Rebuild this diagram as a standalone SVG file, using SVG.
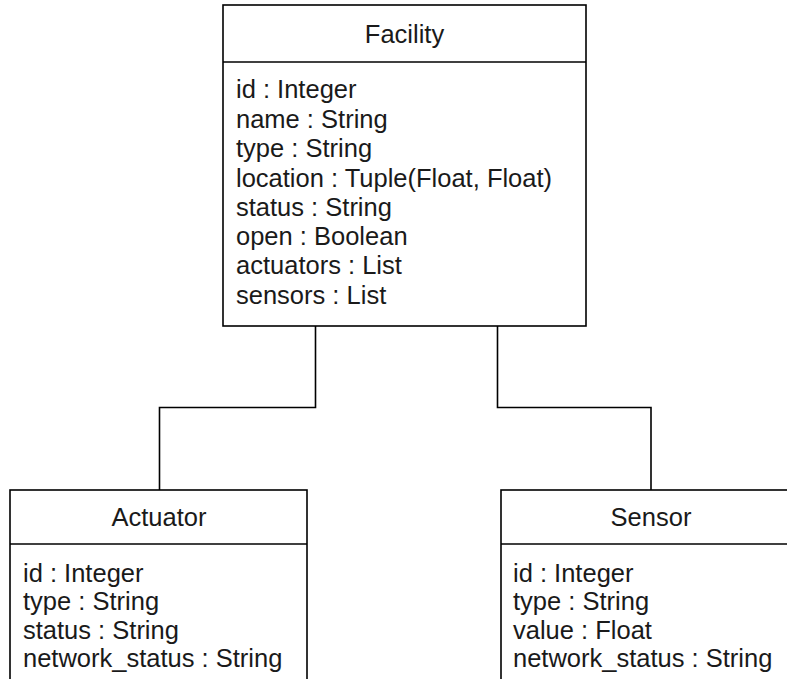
<svg xmlns="http://www.w3.org/2000/svg" width="787" height="679" viewBox="0 0 787 679">
  <style>
    .box { fill: #ffffff; stroke: #000000; stroke-width: 1.6; }
    .sep { stroke: #000000; stroke-width: 1.6; fill: none; }
    .edge { stroke: #000000; stroke-width: 1.6; fill: none; }
    .title { font-family: "Liberation Sans", Arial, sans-serif; font-size: 25.5px; fill: #1a1a1a; text-anchor: middle; }
    .attr { font-family: "Liberation Sans", Arial, sans-serif; font-size: 25.5px; fill: #1a1a1a; }
  </style>
  <rect width="787" height="679" fill="#ffffff"/>

  <!-- associations from Facility down to its parts -->
  <g id="connectors">
    <path class="edge" d="M315.5,326 V407.5 H159.5 V490"/>
    <path class="edge" d="M497.5,326 V407.5 H651 V490"/>
  </g>

  <g id="facility">
    <rect class="box" x="223" y="5" width="363" height="321"/>
    <line class="sep" x1="223" y1="62" x2="586" y2="62"/>
    <text class="title" x="404.5" y="43">Facility</text>
    <text class="attr" x="236" y="98">id : Integer</text>
    <text class="attr" x="236" y="127.5">name : String</text>
    <text class="attr" x="236" y="157">type : String</text>
    <text class="attr" x="236" y="186.5">location : Tuple(Float, Float)</text>
    <text class="attr" x="236" y="215.5">status : String</text>
    <text class="attr" x="236" y="244.5">open : Boolean</text>
    <text class="attr" x="236" y="274">actuators : List</text>
    <text class="attr" x="236" y="304">sensors : List</text>
  </g>

  <g id="actuator">
    <rect class="box" x="10" y="490" width="297" height="210"/>
    <line class="sep" x1="10" y1="544" x2="307" y2="544"/>
    <text class="title" x="159" y="526">Actuator</text>
    <text class="attr" x="23" y="581.5">id : Integer</text>
    <text class="attr" x="23" y="610">type : String</text>
    <text class="attr" x="23" y="638.5">status : String</text>
    <text class="attr" x="23" y="666.5">network_status : String</text>
  </g>

  <g id="sensor">
    <rect class="box" x="501" y="490" width="300" height="210"/>
    <line class="sep" x1="501" y1="544" x2="801" y2="544"/>
    <text class="title" x="651" y="526">Sensor</text>
    <text class="attr" x="513" y="581.5">id : Integer</text>
    <text class="attr" x="513" y="610">type : String</text>
    <text class="attr" x="513" y="638.5">value : Float</text>
    <text class="attr" x="513" y="666.5">network_status : String</text>
  </g>
</svg>
